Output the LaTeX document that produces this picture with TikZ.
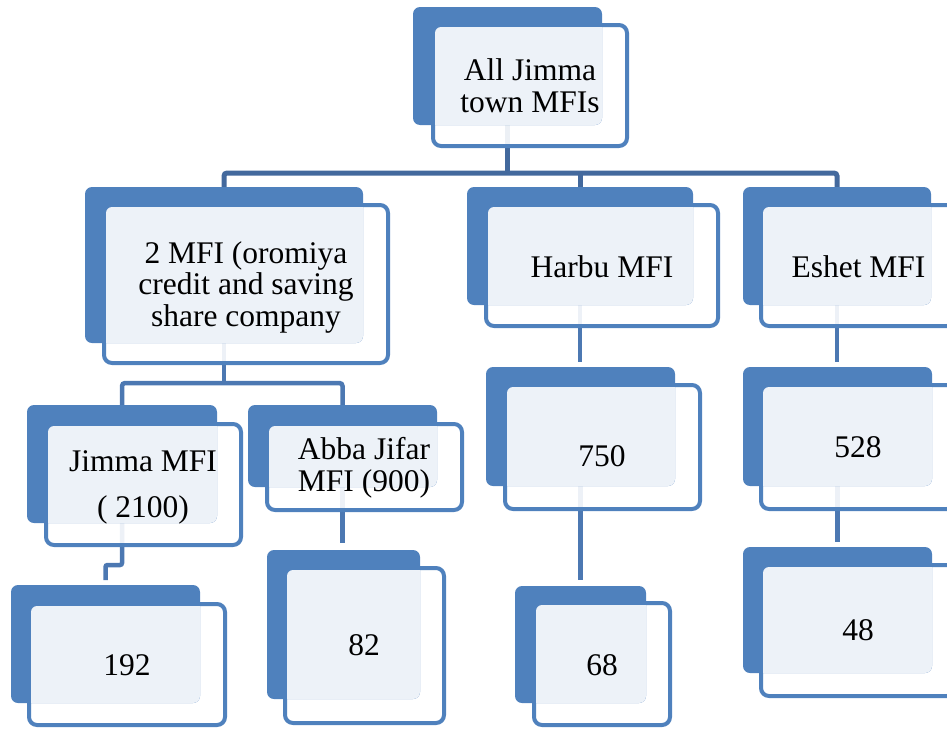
\documentclass[tikz,border=0pt]{standalone}
\usepackage{fontspec}
\setmainfont{Liberation Serif}
\usetikzlibrary{fit,backgrounds,calc}
\definecolor{mblue}{HTML}{4F81BD}
\definecolor{mlight}{HTML}{EDF2F8}
\definecolor{cdark}{HTML}{43699D}
\definecolor{cmid}{HTML}{4C78B2}
\tikzset{
  backbox/.style={fill=mblue, draw=none, rounded corners=7pt, inner sep=0pt, outer sep=0pt},
  frontbox/.style={draw=mblue, line width=4pt, fill=white, fill opacity=0.9, draw opacity=1, rounded corners=8pt, inner sep=0pt, outer sep=0pt},
  txt/.style={font=\fontsize{31.5}{31.5}\selectfont, align=center, inner sep=0pt, text=black},
  conA/.style={draw=cdark, line width=5pt},
  conB/.style={draw=cmid, line width=4.5pt},
}
\newcommand\mfinode[9]{%
  \node[frontbox, fit={(#6,#7) (#8,#9)}] (#1) {};
  \node[backbox, fit={(#2,#3) (#4,#5)}] (#1A) {};
  \begin{scope}
    \clip[rounded corners=6pt] ($(#1.north west)+(2,2)$) rectangle ($(#1.south east)+(-2,-2)$);
    \fill[mlight, rounded corners=7pt] (#1A.north west) rectangle (#1A.south east);
  \end{scope}
}
\begin{document}
\begin{tikzpicture}[x=1pt,y=-1pt]
\useasboundingbox (0,0) rectangle (947,728);
% boxes
\mfinode{top}{413}{7}{602}{125}{433}{25}{627}{146}
\mfinode{mfi}{85}{187}{363}{343}{104}{205}{388}{363}
\mfinode{harbu}{467}{187}{693}{305}{486}{205}{718}{326}
\mfinode{eshet}{743}{187}{931}{305}{761}{205}{955}{326}
\mfinode{jimma}{27}{405}{217}{523}{46}{424}{241}{545}
\mfinode{abba}{248}{405}{437}{487}{267}{424}{462}{510}
\mfinode{nA}{486}{367}{675}{486}{505}{385}{700}{509}
\mfinode{nB}{743}{367}{932}{486}{761}{385}{955}{509}
\mfinode{nC}{11}{585}{200}{703}{29}{604}{225}{725}
\mfinode{nD}{267}{550}{420}{699}{285}{568}{444}{723}
\mfinode{nE}{515}{586}{646}{703}{534}{603}{670}{725}
\mfinode{nF}{743}{547}{932}{673}{761}{565}{955}{696}
% texts
\node[txt] (topT) at (530,85.5) {All Jimma\\town MFIs};
\node[txt] (mfiT) at (246,287.4) {2 MFI (oromiya\\credit and saving\\share company};
\node[txt, anchor=base] (harbuT) at (602,277.3) {Harbu MFI};
\node[txt, anchor=base] (eshetT) at (858.5,277.3) {Eshet MFI};
\node[txt] (jimmaT) at (143,487.6) {Jimma MFI\\[15pt]( 2100)};
\node[txt] (abbaT) at (364,467.7) {Abba Jifar\\MFI (900)};
\node[txt, anchor=base] (nAT) at (602,466) {750};
\node[txt, anchor=base] (nBT) at (858,457.3) {528};
\node[txt, anchor=base] (nCT) at (127,675) {192};
\node[txt, anchor=base] (nDT) at (364,655) {82};
\node[txt, anchor=base] (nET) at (602,675) {68};
\node[txt, anchor=base] (nFT) at (858,640.7) {48};
% connectors
\coordinate (bus1) at (0,173);
\coordinate (bus2) at (0,383);
\coordinate (elb) at (0,565);
\coordinate (eA) at ($(nAA.north)+(0,-5)$);
\coordinate (eB) at ($(nBA.north)+(0,-5)$);
\coordinate (eC) at ($(nCA.north)+(0,-5)$);
\coordinate (eD) at ($(nDA.north)+(0,-7)$);
\coordinate (eE) at ($(nEA.north)+(0,-6)$);
\coordinate (eF) at ($(nFA.north)+(0,-5)$);
\begin{pgfonlayer}{background}
  \draw[conA] (topA.center) -- (topA.center |- bus1);
  \draw[conA, rounded corners=3pt] ($(mfiA.north)+(0,6)$) -- (mfiA.north |- bus1) -- (eshetA.north |- bus1) -- ($(eshetA.north)+(0,6)$);
  \draw[conA] (harbuA.north |- bus1) -- ($(harbuA.north)+(0,6)$);
  \draw[conB] (mfiA.center) -- (mfiA.center |- bus2);
  \draw[conB, rounded corners=3pt] ($(jimmaA.north)+(0,6)$) -- (jimmaA.north |- bus2) -- (abbaA.north |- bus2) -- ($(abbaA.north)+(0,6)$);
  \draw[conB, rounded corners=2pt] (jimmaA.center) -- (jimmaA.center |- elb) -- (eC |- elb) -- (eC);
  \draw[conB] (abbaA.center) -- (abbaA.center |- eD);
  \draw[conB] (harbuA.center) -- (harbuA.center |- eA);
  \draw[conB] (nAA.center) -- (nAA.center |- eE);
  \draw[conB] (eshetA.center) -- (eshetA.center |- eB);
  \draw[conB] (nBA.center) -- (nBA.center |- eF);
\end{pgfonlayer}
\end{tikzpicture}
\end{document}
